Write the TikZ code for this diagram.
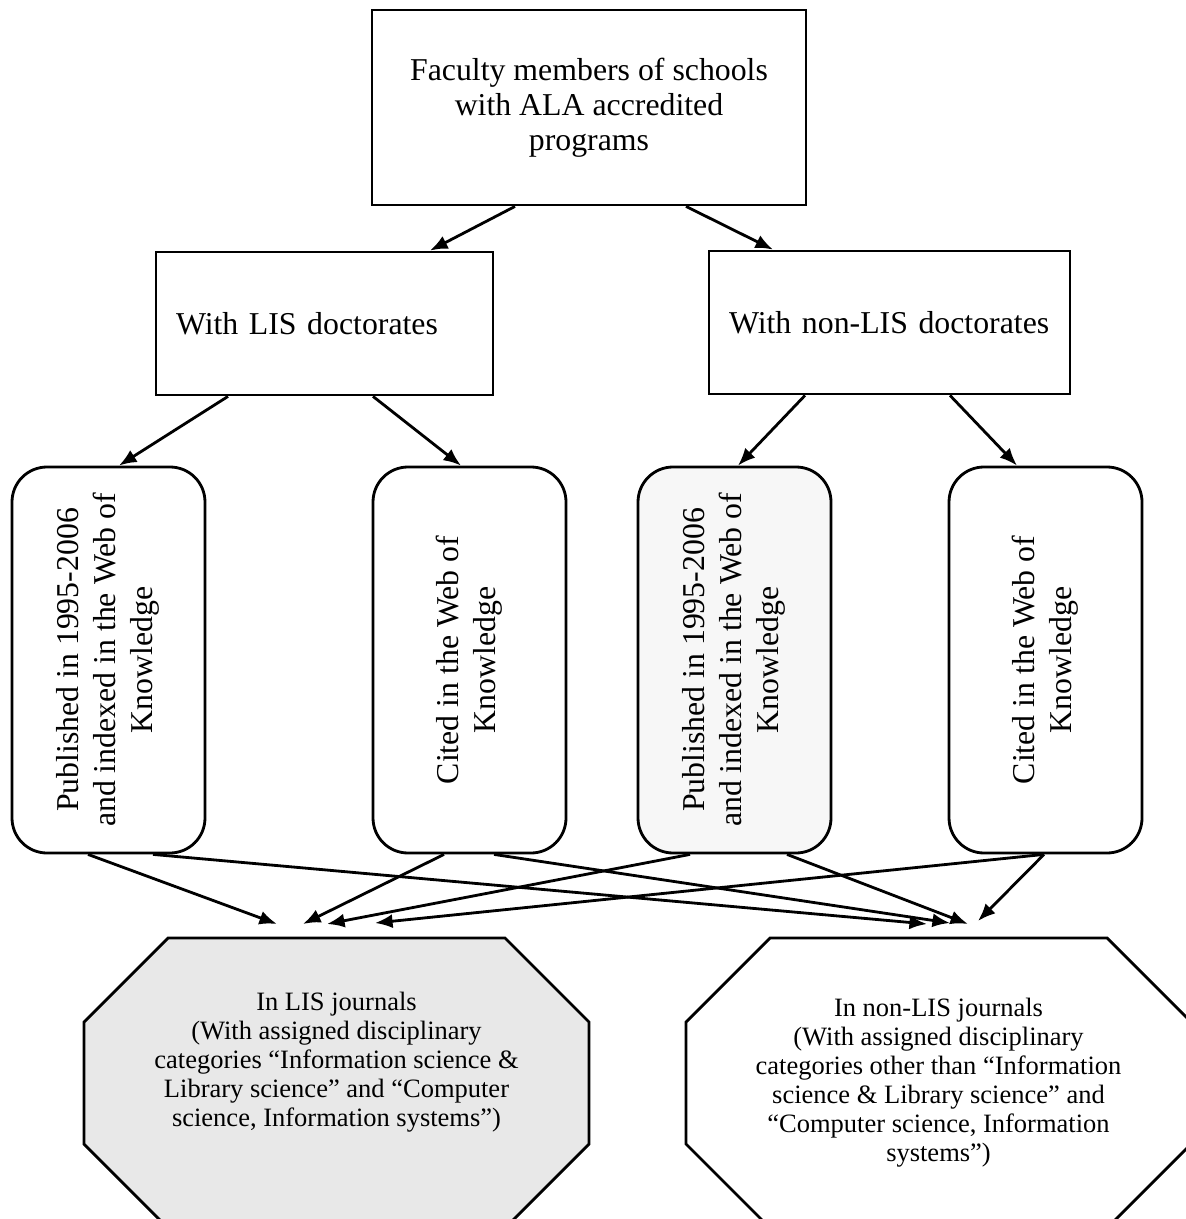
\documentclass[tikz,border=0pt]{standalone}
\usepackage{fontspec}
\setmainfont{Liberation Serif}
\usepackage{graphicx}
\usepackage{tikz}
\usetikzlibrary{backgrounds}
\usetikzlibrary{arrows.meta}

\begin{document}
\begin{tikzpicture}
[-,thick,%
  every node/.style={font=\fontsize{9.05}{9.96}\selectfont},%
  sqbox/.style={draw,thick,align=center},%
  doctbox/.style={draw,thick,align=left,inner xsep=0.2cm,minimum height=1.43cm},%
  webbox/.style={draw,thick,rounded corners=0.35cm,minimum width=1.93cm,
    minimum height=3.86cm,font=\fontsize{9.05}{10.5}\selectfont},%
  journal/.style={minimum width=5.05cm,minimum height=2.90cm,outer sep=0pt},%
  journaltext/.style={align=center,font=\fontsize{7.54}{8.25}\selectfont},%
  >={Latex[length=5pt,width=4pt]}]
\useasboundingbox (0,0) rectangle (11.85,-12.19);
\node[sqbox,minimum width=4.34cm,minimum height=1.95cm] (fac) at (5.89,-1.075)
  {Faculty members of schools\\with ALA accredited\\programs};
%%
\node[doctbox,text width=2.97cm] (lis) at (3.245,-3.235) {With LIS doctorates};
\node[doctbox,text width=3.21cm] (nonlis) at (8.895,-3.225) {With non-LIS doctorates};
%%
\node[webbox] (pub1) at (1.085,-6.60)
  {\rotatebox{90}{\begin{tabular}{@{}c@{}}Published in 1995-2006\\and indexed in the Web of\\Knowledge\end{tabular}}};
\node[webbox] (cit1) at (4.695,-6.60)
  {\rotatebox{90}{\begin{tabular}{@{}c@{}}Cited in the Web of\\Knowledge\end{tabular}}};
\node[webbox,fill=gray!6] (pub2) at (7.345,-6.60)
  {\rotatebox{90}{\begin{tabular}{@{}c@{}}Published in 1995-2006\\and indexed in the Web of\\Knowledge\end{tabular}}};
\node[webbox] (cit2) at (10.455,-6.60)
  {\rotatebox{90}{\begin{tabular}{@{}c@{}}Cited in the Web of\\Knowledge\end{tabular}}};
%%
\node[journal,
  label={[journaltext,yshift=0.21cm]center:{In LIS journals\\(With assigned disciplinary\\categories “Information science \&\\Library science” and “Computer\\science, Information systems”)}}]
  (lisj) at (3.365,-10.83) {};
\node[journal,journaltext] (nonlisj) at (9.385,-10.83)
  {In non-LIS journals\\(With assigned disciplinary\\categories other than “Information\\science \& Library science” and\\“Computer science, Information\\systems”)};
%% octagon outlines behind the journal texts
\begin{scope}[on background layer]
\foreach \oct/\shade in {lisj/gray!18, nonlisj/white}
{
  \draw[thick,fill=\shade] ([xshift=0.84cm]\oct.north west) -- ([xshift=-0.84cm]\oct.north east)
    -- ([yshift=-0.84cm]\oct.north east) -- ([yshift=0.84cm]\oct.south east)
    -- ([xshift=-0.84cm]\oct.south east) -- ([xshift=0.84cm]\oct.south west)
    -- ([yshift=0.84cm]\oct.south west) -- ([yshift=-0.84cm]\oct.north west) -- cycle;
}
\end{scope}
\path
\foreach \startNode/\startShift/\endNode/\endShift in
  {fac/-0.74/lis/1.055, fac/0.97/nonlis/-1.165,
   lis/-0.965/pub1/0.105, lis/0.485/cit1/-0.085,
   nonlis/-0.845/pub2/0.035, nonlis/0.605/cit2/-0.285}
{
  ([xshift=\startShift cm]\startNode.south) edge[->,thick] ([xshift=\endShift cm]\endNode.north)
};
\path
\foreach \startNode/\startShift/\endNode/\endShift/\endLift in
  {pub1/-0.205/lisj/-0.595/0.14, pub1/0.445/nonlisj/-0.115/0.14,
   cit1/-0.255/lisj/-0.335/0.14, cit1/0.245/nonlisj/0.115/0.15,
   pub2/-0.445/lisj/-0.095/0.14, pub2/0.525/nonlisj/0.295/0.14,
   cit2/-0.015/lisj/0.385/0.15, cit2/-0.015/nonlisj/0.395/0.17}
{
  ([xshift=\startShift cm]\startNode.south) edge[->,thick]
    ([xshift=\endShift cm,yshift=\endLift cm]\endNode.north)
};
\end{tikzpicture}
\end{document}
